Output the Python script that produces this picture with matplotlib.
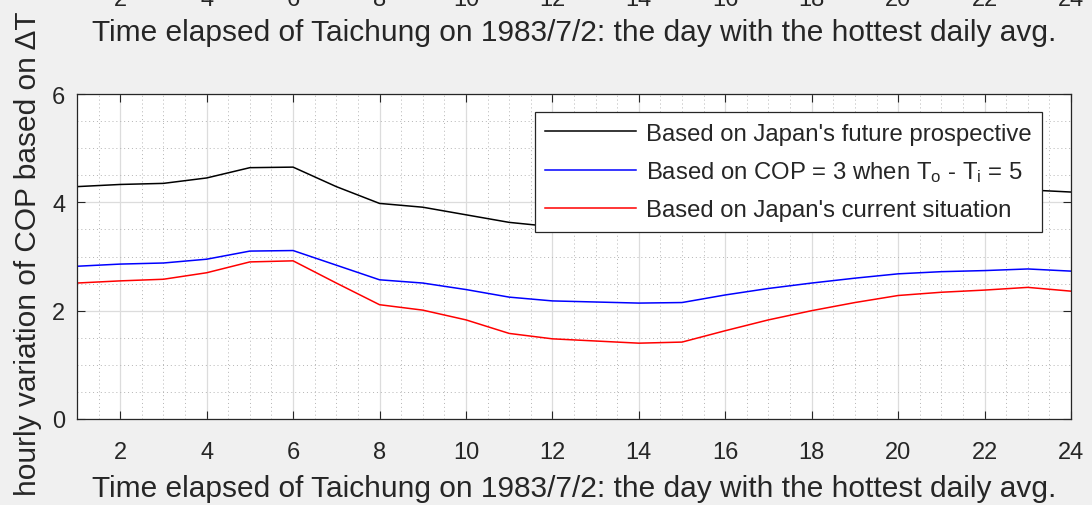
import numpy as np
import matplotlib.pyplot as plt
from matplotlib.ticker import MultipleLocator

plt.rcParams['font.family'] = ['Liberation Sans', 'DejaVu Sans']
plt.rcParams['mathtext.fontset'] = 'custom'
plt.rcParams['mathtext.rm'] = 'Liberation Sans'
plt.rcParams['mathtext.it'] = 'Liberation Sans'

# COP hourly values for Taichung, 1983/7/2
hours = list(range(1, 25))
cop_future = [4.29, 4.33, 4.35, 4.45, 4.64, 4.65, 4.29, 3.98, 3.91, 3.77, 3.63, 3.55,
              3.52, 3.50, 3.51, 3.68, 3.82, 3.94, 4.04, 4.14, 4.19, 4.21, 4.23, 4.19]
cop_dt5 = [2.82, 2.86, 2.88, 2.95, 3.10, 3.11, 2.84, 2.57, 2.51, 2.39, 2.25, 2.18,
           2.16, 2.14, 2.15, 2.29, 2.41, 2.51, 2.60, 2.68, 2.72, 2.74, 2.77, 2.73]
cop_current = [2.51, 2.55, 2.58, 2.70, 2.90, 2.92, 2.51, 2.11, 2.01, 1.83, 1.58, 1.48,
               1.44, 1.40, 1.42, 1.63, 1.83, 2.00, 2.15, 2.28, 2.34, 2.38, 2.43, 2.36]
labels = ["Based on Japan's future prospective",
          r"Based on COP = 3 when T$_{\mathrm{o}}$ - T$_{\mathrm{i}}$ = 5",
          "Based on Japan's current situation"]
xticks = list(range(2, 25, 2))
yticks = [0, 2, 4, 6]
xlabel = 'Time elapsed of Taichung on 1983/7/2: the day with the hottest daily avg.'
ylabel = 'hourly variation of COP based on \u0394T'

W, H = 1092, 506
fig = plt.figure(figsize=(W / 100, H / 100), dpi=100, facecolor='#f0f0f0')


def style_axes(ax):
    ax.set_xlim(1, 24)
    ax.set_xticks(xticks)
    ax.xaxis.set_minor_locator(MultipleLocator(0.5))
    ax.tick_params(which='major', direction='in', length=6, width=0.8,
                   colors='#262626', labelsize=17, top=True, right=True)
    ax.tick_params(axis='x', pad=15.5)
    ax.tick_params(axis='y', pad=8.5)
    ax.tick_params(which='minor', length=0, top=True, right=True)
    for s in ax.spines.values():
        s.set_color('#262626')
        s.set_linewidth(0.9)


# partial axes above (only its bottom labels show)
ax_top = fig.add_axes([77 / W, (H + 33) / H, 994 / W, 0.5])
style_axes(ax_top)
ax_top.set_yticks([])
ax_top.set_xlabel(xlabel, fontsize=21.5, color='#262626', labelpad=6)

ax = fig.add_axes([77 / W, 86 / H, 994 / W, 325 / H])
ax.set_facecolor('white')
style_axes(ax)
ax.set_ylim(0, 6)
ax.set_yticks(yticks)
ax.yaxis.set_minor_locator(MultipleLocator(0.5))
ax.grid(which='major', color='#dcdcdc', linewidth=0.9)
ax.grid(which='minor', color='#b4b4b4', linestyle=(0, (1, 3)), linewidth=0.7)
ax.set_axisbelow(True)

ax.plot(hours, cop_future, color='k', lw=1.1, label=labels[0])
ax.plot(hours, cop_dt5, color=(0, 0, 1), lw=1.1, label=labels[1])
ax.plot(hours, cop_current, color=(1, 0, 0), lw=1.1, label=labels[2])

ax.set_xlabel(xlabel, fontsize=21.5, color='#262626', labelpad=8)
fig.text(28 / W, (H - 12) / H, ylabel, rotation=90, ha='center', va='top',
         fontsize=21.5, color='#262626')

leg = ax.legend(loc='upper right', bbox_to_anchor=((1042 - 77) / 994, (420 - 113) / 325),
                borderaxespad=0, fontsize=17.2, fancybox=False, framealpha=1,
                edgecolor='#262626', handlelength=3.8, handletextpad=0.4,
                borderpad=0.45, labelspacing=0.62)
leg.get_frame().set_linewidth(0.9)
for t in leg.get_texts():
    t.set_color('#262626')

fig.savefig('out.png', dpi=100, facecolor=fig.get_facecolor())
